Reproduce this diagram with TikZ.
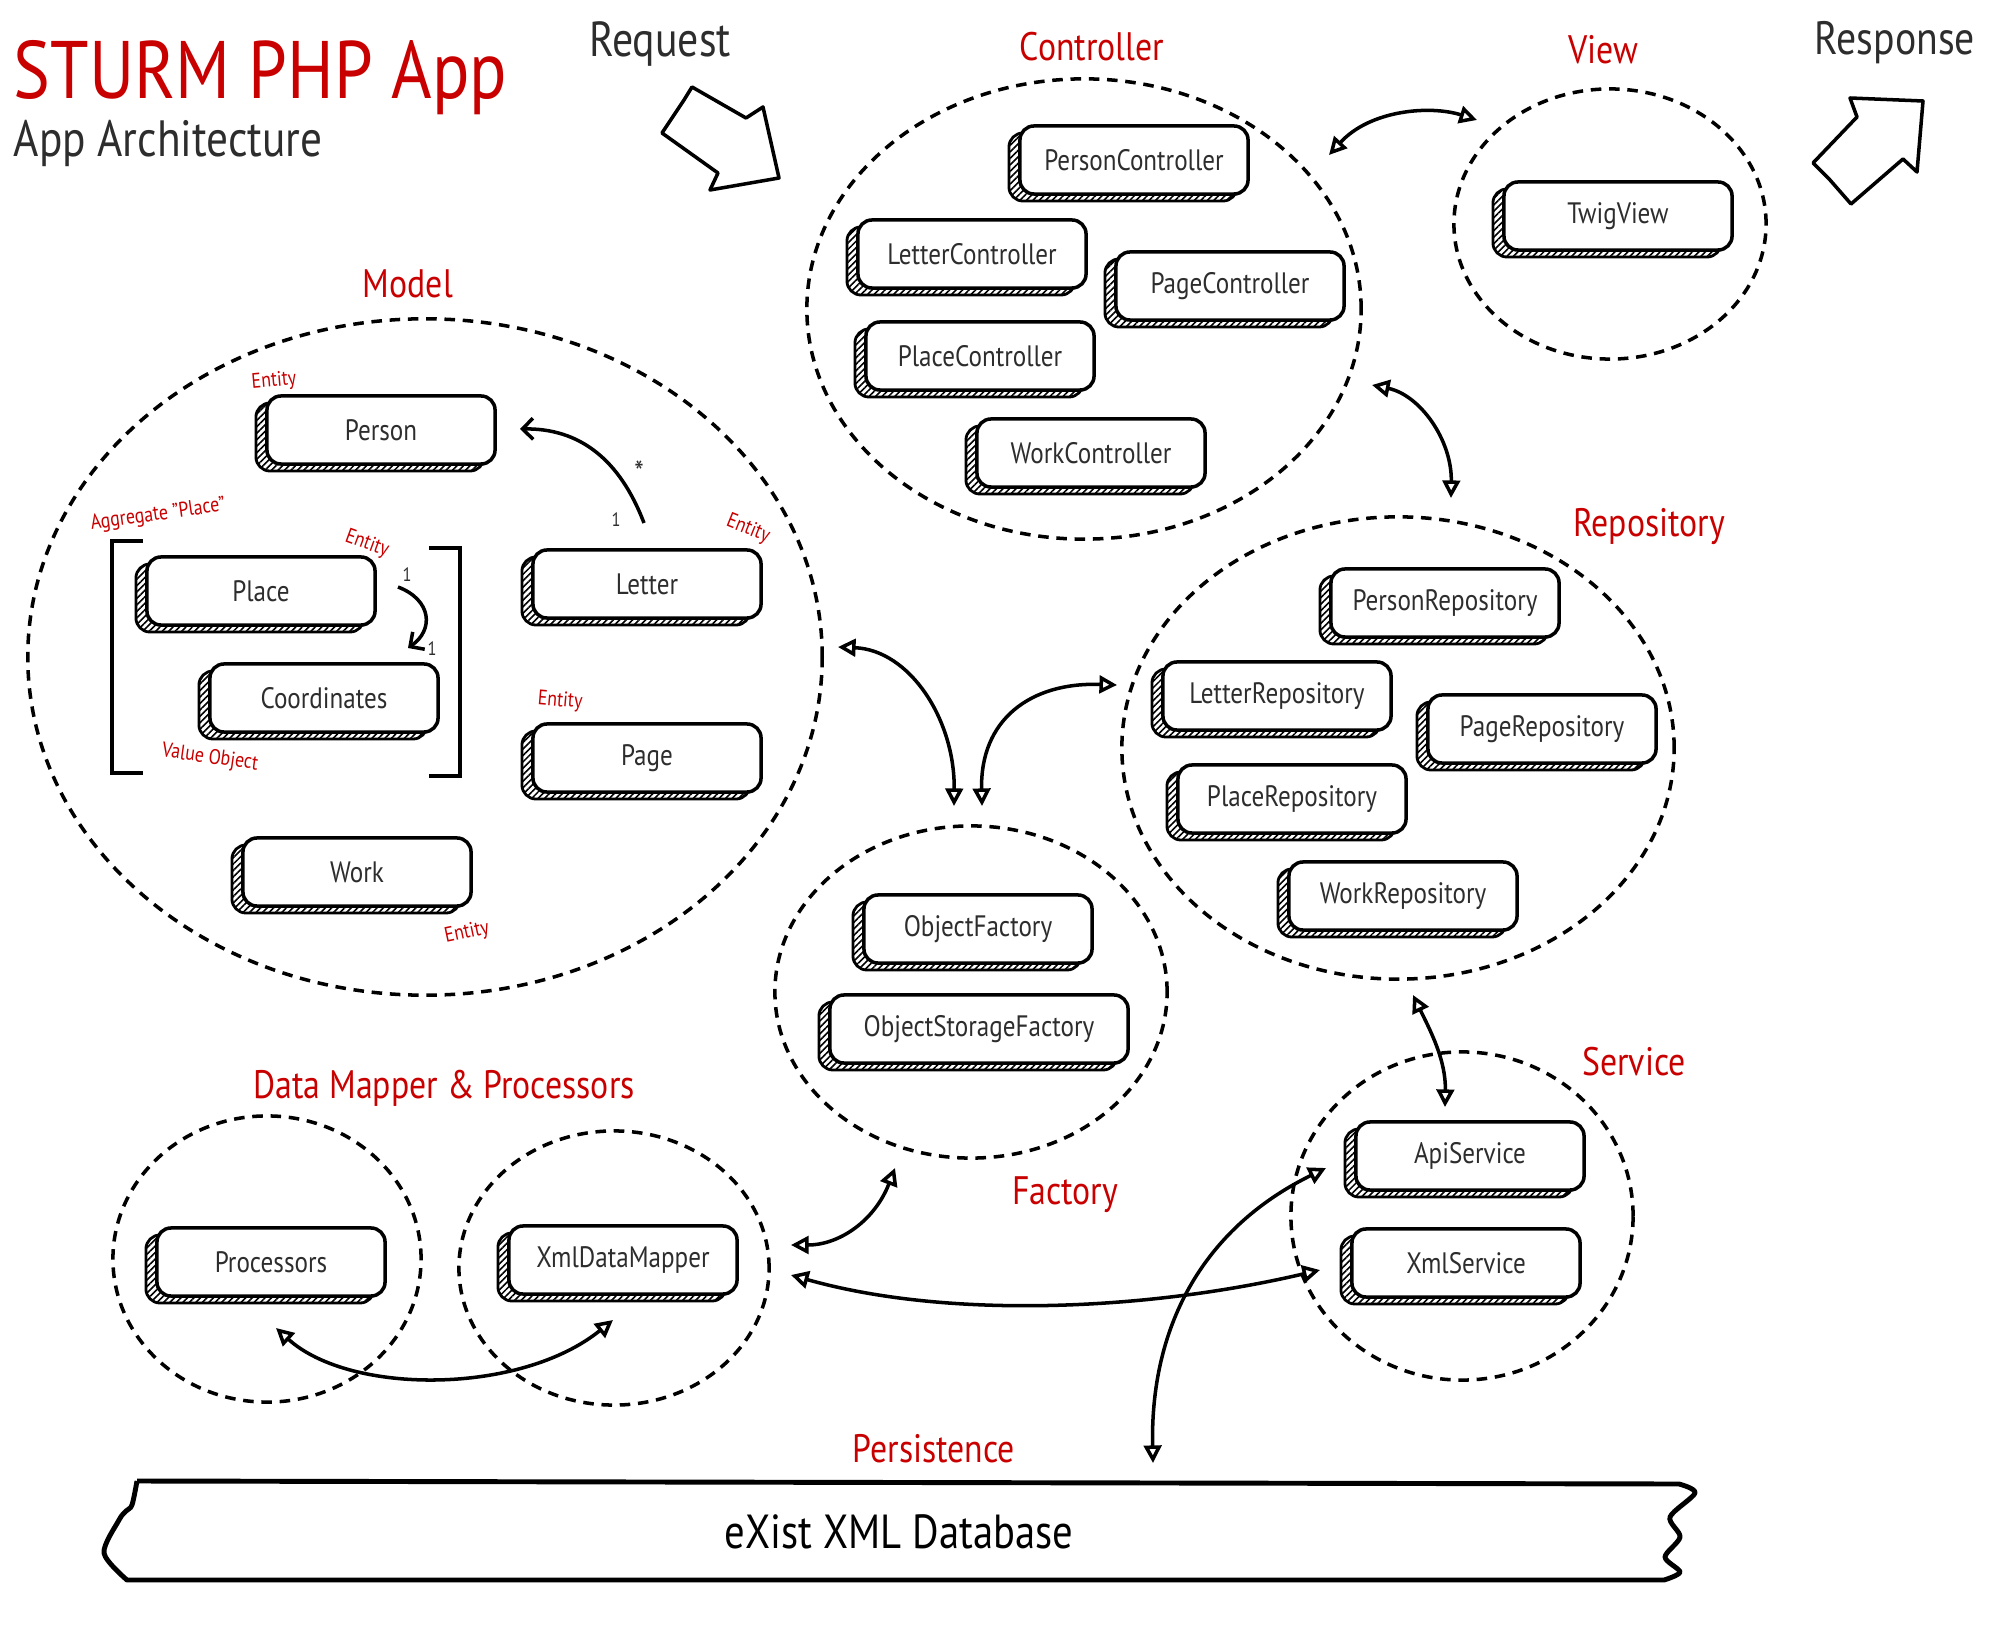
\documentclass[tikz,border=0pt]{standalone}
\usepackage{fontspec}
\setmainfont{PT Sans}[FakeStretch=0.85]
\usetikzlibrary{arrows.meta,shapes.geometric,shadows,patterns.meta}
\definecolor{rouge}{RGB}{200,0,0}
\definecolor{encre}{RGB}{45,45,45}
\begin{document}
\begin{tikzpicture}[x=0.01cm,y=-0.01cm]
	\tikzstyle{boite}=[draw,line width=1pt,rounded corners=4pt,fill=white,
		minimum width=\LargeurBoite,minimum height=0.68cm,text=encre,
		font=\fontsize{8.4}{10}\selectfont,
		general shadow={shadow xshift=-1.1mm,shadow yshift=-0.7mm,draw,line width=0.8pt,
			pattern={Lines[angle=45,distance=1.3pt,line width=0.45pt]}}]
	\tikzstyle{groupe}=[ellipse,draw,line width=1pt,dash pattern=on 3pt off 2.2pt,inner sep=0pt]
	\tikzstyle{fleche}=[<->,>={Triangle[open,length=5pt,width=5pt]},line width=1pt]
	\tikzstyle{lien}=[->,>={Straight Barb[length=3pt,width=6pt]},line width=1pt]
	\tikzstyle{titre}=[text=rouge,font=\fontsize{11.3}{13}\selectfont,anchor=base]
	\tikzstyle{entete}=[text=encre,inner sep=0pt]
	\tikzstyle{etiquette}=[text=rouge,font=\fontsize{6}{7}\selectfont,inner sep=0pt]
	\tikzstyle{cardinal}=[text=encre,font=\fontsize{5.5}{6}\selectfont,inner sep=0pt]
	\tikzstyle{gros}=[draw,line width=1pt,line join=round]
	\def\LargeurBoite{2.28cm}
	\useasboundingbox (0,0) rectangle (2000,1634);
	% titres
	\node[entete,anchor=base west,text=rouge,font=\fontsize{23.2}{26}\selectfont] (Titre) at (13,99) {STURM PHP App};
	\node[entete,anchor=base west,font=\fontsize{14.5}{16}\selectfont] (SousTitre) at (13,157) {App Architecture};
	\node[entete,anchor=base,font=\fontsize{14}{16}\selectfont] (Requete) at (660,57) {Request};
	\node[entete,anchor=base,font=\fontsize{13.3}{15}\selectfont] (Reponse) at (1895,55) {Response};
	\draw[gros] (692,87) -- (684,100) -- (662,133) -- (718,173) -- (710,190) -- (779,178) -- (763,107) -- (746,118) -- cycle;
	\draw[gros] (1850,98) -- (1923,101) -- (1917,172) -- (1903,159) -- (1851,204) -- (1830,180) -- (1813,163) -- (1857,117) -- cycle;
	% groupes
	\node[groupe,minimum width=5.54cm,minimum height=4.60cm] (Ctrl) at (1084,309) {};
	\node[groupe,minimum width=3.12cm,minimum height=2.70cm] (Vue) at (1610,224) {};
	\node[groupe,minimum width=7.94cm,minimum height=6.76cm] (Modele) at (425,657) {};
	\node[groupe,minimum width=5.52cm,minimum height=4.62cm] (Depot) at (1398,748) {};
	\node[groupe,minimum width=3.92cm,minimum height=3.32cm] (Usine) at (971,992) {};
	\node[groupe,minimum width=3.42cm,minimum height=3.28cm] (Serv) at (1462,1216) {};
	\node[groupe,minimum width=3.08cm,minimum height=2.86cm] (Proc) at (267,1259) {};
	\node[groupe,minimum width=3.10cm,minimum height=2.74cm] (Mapp) at (614,1268) {};
	\node[titre] (TCtrl) at (1092,61) {Controller};
	\node[titre] (TVue) at (1603,64) {View};
	\node[titre] (TModele) at (408,298) {Model};
	\node[titre] (TDepot) at (1649,537) {Repository};
	\node[titre] (TUsine) at (1065,1204) {Factory};
	\node[titre] (TServ) at (1634,1075) {Service};
	\node[titre] (TMapp) at (444,1098) {Data Mapper \& Processors};
	\node[titre] (TPers) at (934,1462) {Persistence};
	% boites
	\node[boite] (PersonCtrl) at (1134,160) {PersonController};
	\node[boite] (LetterCtrl) at (972,254) {LetterController};
	\node[boite] (PageCtrl) at (1230,286) {PageController};
	\node[boite] (PlaceCtrl) at (980,356) {PlaceController};
	\node[boite] (WorkCtrl) at (1091,453) {WorkController};
	\node[boite] (Twig) at (1618,216) {TwigView};
	\node[boite] (Person) at (381,430) {Person};
	\node[boite] (Place) at (261,591) {Place};
	\node[boite] (Coord) at (324,698) {Coordinates};
	\node[boite] (Letter) at (647,584) {Letter};
	\node[boite] (Page) at (647,758) {Page};
	\node[boite] (Work) at (357,872) {Work};
	\node[boite] (PersonRep) at (1445,603) {PersonRepository};
	\node[boite] (LetterRep) at (1277,696) {LetterRepository};
	\node[boite] (PageRep) at (1542,729) {PageRepository};
	\node[boite] (PlaceRep) at (1292,799) {PlaceRepository};
	\node[boite] (WorkRep) at (1403,896) {WorkRepository};
	\node[boite] (ObjFact) at (978,929) {ObjectFactory};
	\node[boite,minimum width=2.98cm] (StoreFact) at (979,1029) {ObjectStorageFactory};
	\node[boite] (ApiServ) at (1470,1156) {ApiService};
	\node[boite] (XmlServ) at (1466,1263) {XmlService};
	\node[boite] (Processors) at (271,1262) {Processors};
	\node[boite] (XmlMapper) at (623,1260) {XmlDataMapper};
	% mentions du modele
	\node[etiquette,rotate=5] (EPerson) at (274,381) {Entity};
	\node[etiquette,rotate=8] (Aggr) at (158,515) {Aggregate "Place"};
	\node[etiquette,rotate=-20] (EPlace) at (367,544) {Entity};
	\node[etiquette,rotate=-22] (ELetter) at (748,529) {Entity};
	\node[etiquette,rotate=-5] (EPage) at (560,701) {Entity};
	\node[etiquette,rotate=12] (EWork) at (467,933) {Entity};
	\node[etiquette,rotate=-8] (VObj) at (210,758) {Value Object};
	\node[cardinal,font=\fontsize{9}{10}\selectfont] (CardA) at (639,472) {*};
	\node[cardinal] (CardB) at (616,520) {1};
	\node[cardinal] (CardC) at (407,575) {1};
	\node[cardinal] (CardD) at (432,649) {1};
	\draw[line width=1pt] (143,541) -- (112,541) -- (112,773) -- (143,773);
	\draw[line width=1pt] (429,548) -- (460,548) -- (460,776) -- (429,776);
	\coordinate (LP1) at (644,523); \coordinate (LP2) at (520,429);
	\coordinate (PC1) at (398,587); \coordinate (PC2) at (408,648);
	\draw[lien] (LP1) .. controls (620,460) and (580,428) .. (LP2);
	\draw[lien] (PC1) .. controls (432,600) and (434,630) .. (PC2);
	% base de donnees
	\draw[line width=1.4pt,line join=round] (137,1481) -- (1679,1484)
		-- plot[smooth] coordinates {(1679,1484) (1695,1493) (1670,1517) (1680,1537) (1665,1557) (1680,1572) (1664,1580)}
		-- (127,1580)
		-- plot[smooth] coordinates {(127,1580) (104,1553) (119,1520) (126,1511) (132,1505) (137,1481)};
	\node[font=\fontsize{13.6}{16}\selectfont] (Base) at (899,1532) {eXist XML Database};
	% liaisons
	\coordinate (CV1) at (1329,155); \coordinate (CV2) at (1477,120);
	\coordinate (CR1) at (1372,385); \coordinate (CR2) at (1451,498);
	\coordinate (MU1) at (838,647); \coordinate (MU2) at (954,806);
	\coordinate (UR1) at (982,806); \coordinate (UR2) at (1117,685);
	\coordinate (RS1) at (1413,995); \coordinate (RS2) at (1445,1107);
	\coordinate (UM1) at (895,1168); \coordinate (UM2) at (791,1245);
	\coordinate (MS1) at (791,1275); \coordinate (MS2) at (1320,1270);
	\coordinate (PM1) at (276,1328); \coordinate (PM2) at (613,1320);
	\coordinate (SB1) at (1326,1168); \coordinate (SB2) at (1153,1463);
	\draw[fleche] (CV1) .. controls (1370,110) and (1430,105) .. (CV2);
	\draw[fleche] (CR1) .. controls (1420,395) and (1452,440) .. (CR2);
	\draw[fleche] (MU1) .. controls (910,650) and (955,720) .. (MU2);
	\draw[fleche] (UR1) .. controls (980,720) and (1030,682) .. (UR2);
	\draw[fleche] (RS1) .. controls (1430,1030) and (1446,1060) .. (RS2);
	\draw[fleche] (UM1) .. controls (875,1220) and (840,1245) .. (UM2);
	\draw[fleche] (MS1) .. controls (950,1320) and (1150,1310) .. (MS2);
	\draw[fleche] (PM1) .. controls (350,1395) and (520,1395) .. (PM2);
	\draw[fleche] (SB1) .. controls (1200,1230) and (1150,1330) .. (SB2);
\end{tikzpicture}
\end{document}
